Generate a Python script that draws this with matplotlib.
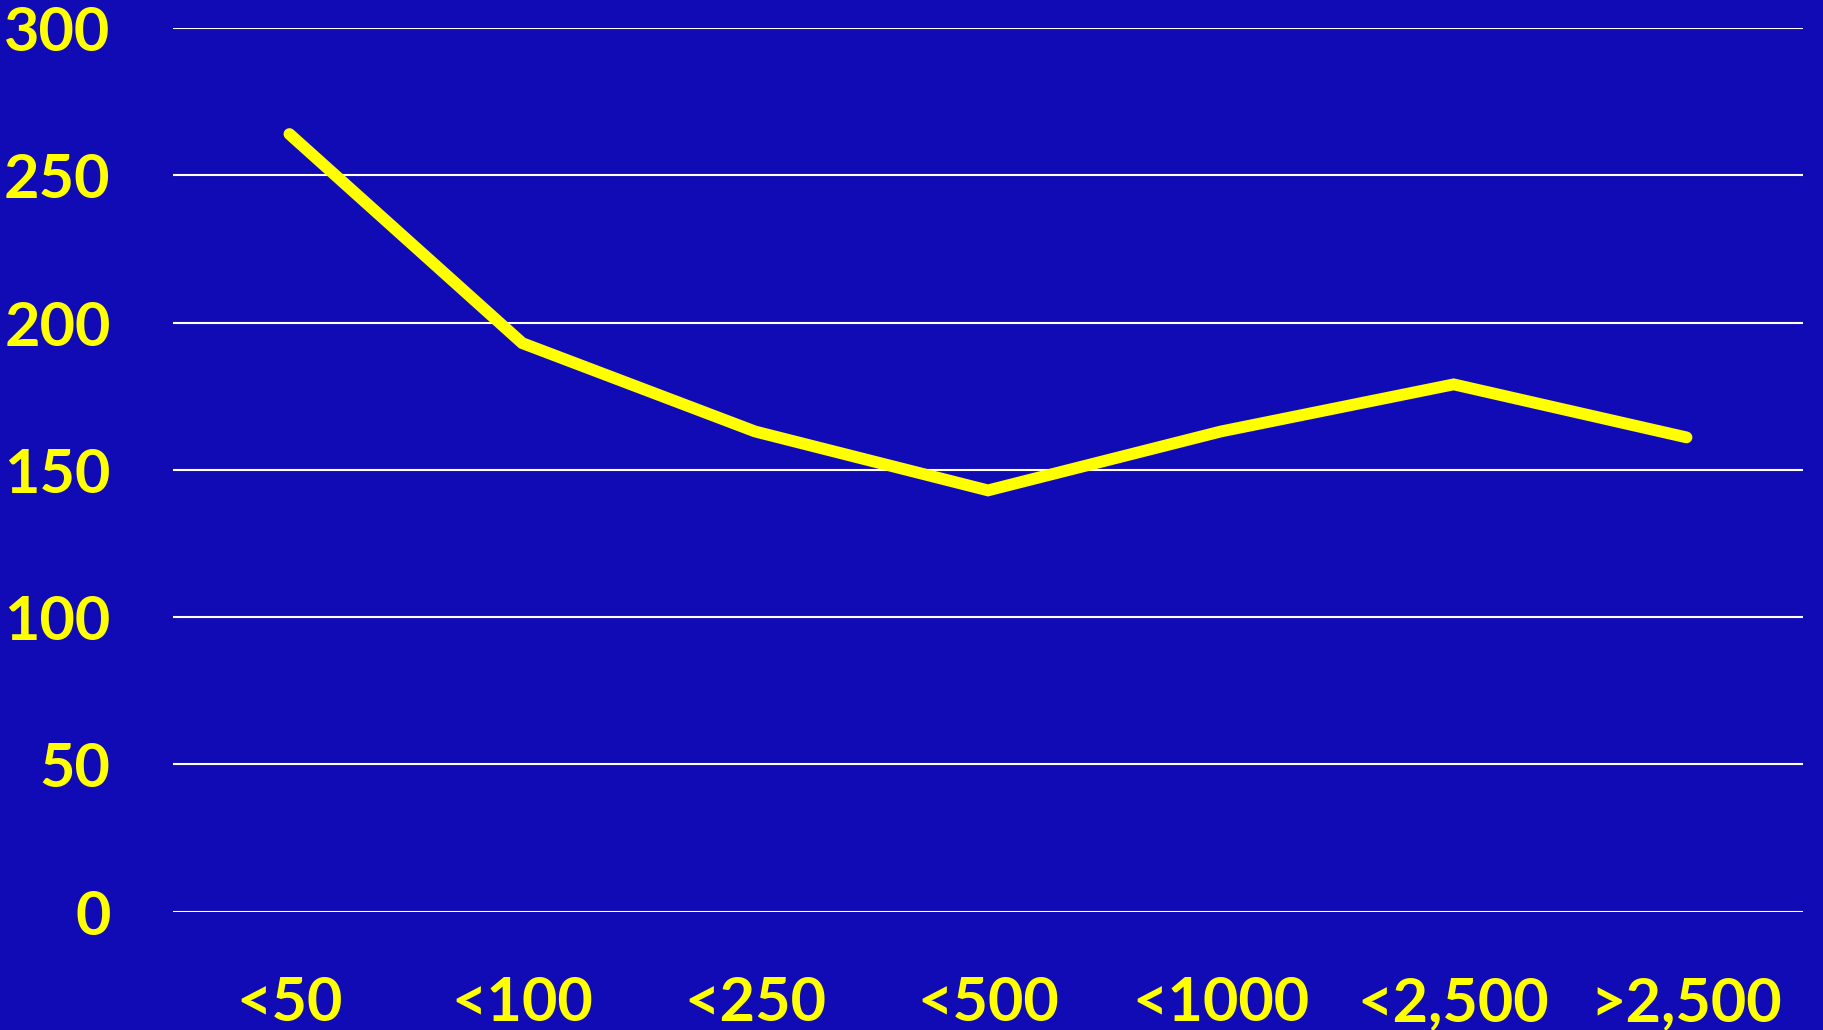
import matplotlib
matplotlib.use("Agg")
import matplotlib.pyplot as plt

categories = ["<50", "<100", "<250", "<500", "<1000", "<2,500", ">2,500"]
values = [264, 193, 163, 143, 163, 179, 161]
yticks = [0, 50, 100, 150, 200, 250, 300]

BG = "#110BB5"
YEL = "#FFFF00"

plt.rcParams['font.family'] = ['Lato', 'DejaVu Sans']

fig = plt.figure(figsize=(18.23, 10.30), dpi=100, facecolor=BG)
ax = fig.add_axes([0.0949, 0.1150, 0.8941, 0.8578])
ax.set_facecolor(BG)

x = list(range(len(categories)))
ax.plot(x, values, color=YEL, linewidth=8.5, solid_capstyle='round',
        solid_joinstyle='miter', zorder=3)

ax.set_xlim(-0.5, len(categories) - 0.5)
ax.set_ylim(0, 300)
ax.set_yticks(yticks)
ax.set_yticklabels([str(v) for v in yticks])
ax.set_xticks(x)
ax.set_xticklabels(categories)

ax.yaxis.grid(True, color="white", linewidth=1.5, zorder=1)
ax.xaxis.grid(False)
ax.set_axisbelow(True)
for s in ax.spines.values():
    s.set_visible(False)

ax.tick_params(axis='y', length=0, pad=45, labelsize=44, labelcolor=YEL)
ax.tick_params(axis='x', length=0, pad=46, labelsize=44, labelcolor=YEL)
for lbl in ax.get_xticklabels() + ax.get_yticklabels():
    lbl.set_fontweight('bold')

fig.savefig("out.png", dpi=100, facecolor=BG)
